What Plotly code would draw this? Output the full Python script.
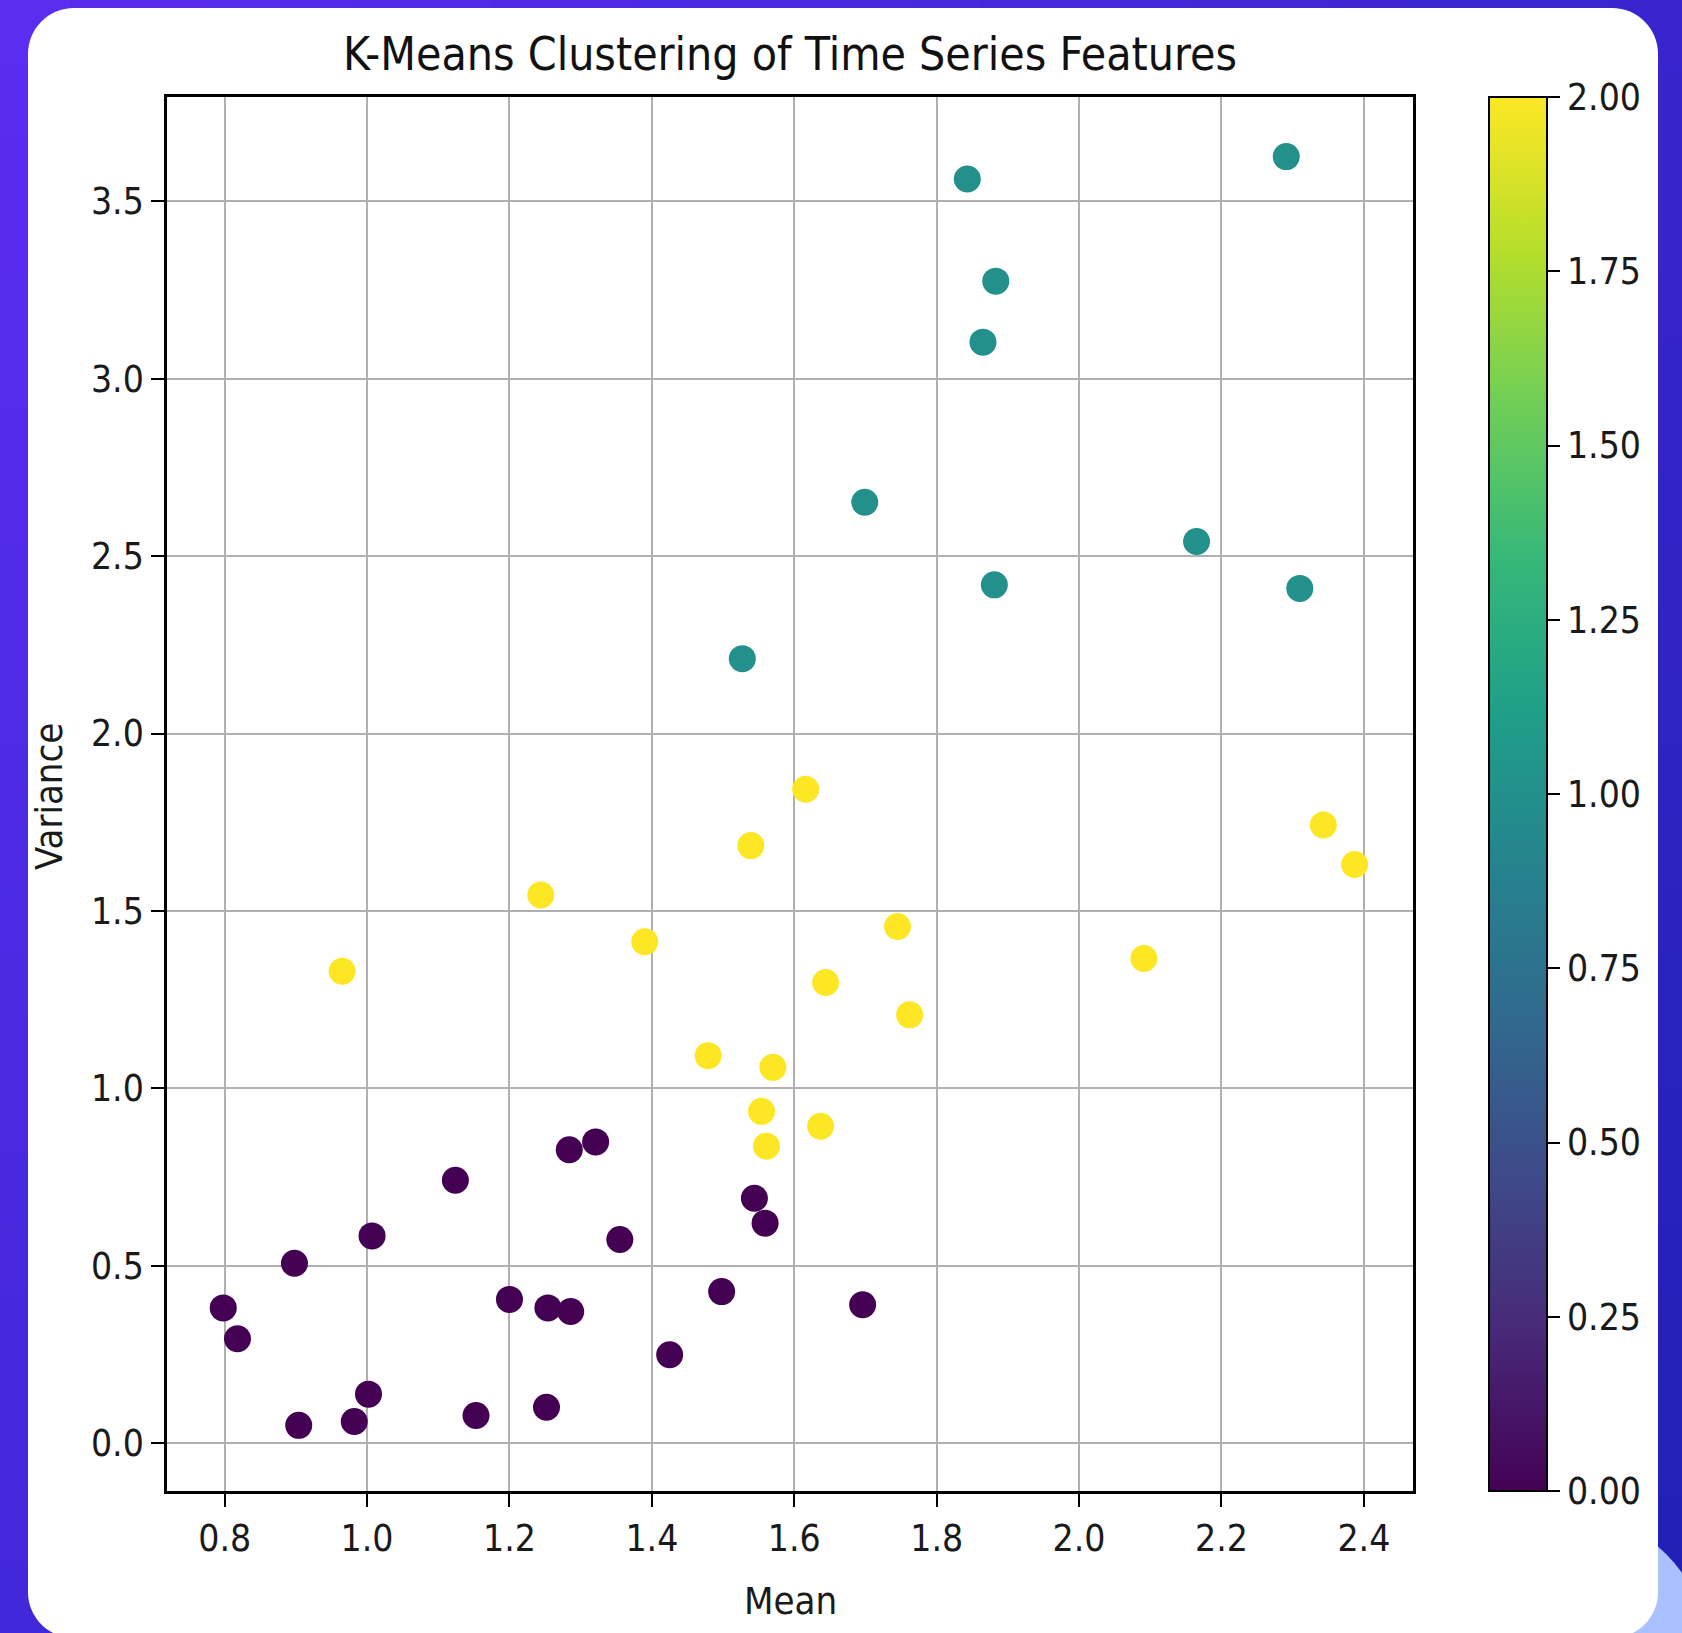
import plotly.graph_objects as go

# ---------------- data ----------------
cluster0_mean = [0.798, 0.818, 0.898, 0.904, 0.982, 1.002, 1.007, 1.124, 1.153, 1.200, 1.252,
                 1.254, 1.286, 1.284, 1.321, 1.355, 1.425, 1.498, 1.544, 1.559, 1.696]
cluster0_var = [0.381, 0.294, 0.507, 0.050, 0.061, 0.138, 0.584, 0.741, 0.078, 0.405, 0.101,
                0.381, 0.371, 0.827, 0.849, 0.574, 0.249, 0.427, 0.690, 0.620, 0.390]

cluster1_mean = [1.527, 1.699, 1.843, 1.865, 1.883, 1.881, 2.165, 2.291, 2.310]
cluster1_var = [2.211, 2.652, 3.563, 3.103, 3.275, 2.419, 2.541, 3.626, 2.409]

cluster2_mean = [0.965, 1.244, 1.390, 1.479, 1.539, 1.554, 1.561, 1.570, 1.616, 1.637, 1.644,
                 1.745, 1.762, 2.091, 2.343, 2.387]
cluster2_var = [1.330, 1.545, 1.413, 1.092, 1.684, 0.935, 0.837, 1.059, 1.843, 0.893, 1.298,
                1.456, 1.207, 1.366, 1.742, 1.631]

cluster_ids = [0, 1, 2]
x_ticks = [0.8, 1.0, 1.2, 1.4, 1.6, 1.8, 2.0, 2.2, 2.4]
y_ticks = [0.0, 0.5, 1.0, 1.5, 2.0, 2.5, 3.0, 3.5]
cbar_ticks = [0.0, 0.25, 0.5, 0.75, 1.0, 1.25, 1.5, 1.75, 2.0]

title_text = "K-Means Clustering of Time Series Features"
x_label = "Mean"
y_label = "Variance"

# ---------------- layout geometry (pixels) ----------------
W, H = 1682, 1633
PL, PR, PT, PB = 167, 1413, 97, 1491
PW, PH = PR - PL, PB - PT

FONT = "DejaVu Sans Condensed, DejaVu Sans, sans-serif"


def px(x):
    return (x - PL) / PW


def py(y):
    return (PB - y) / PH


all_mean = cluster0_mean + cluster1_mean + cluster2_mean
all_var = cluster0_var + cluster1_var + cluster2_var
all_lab = ([cluster_ids[0]] * len(cluster0_mean) + [cluster_ids[1]] * len(cluster1_mean)
           + [cluster_ids[2]] * len(cluster2_mean))

fig = go.Figure()
fig.add_trace(go.Scatter(
    x=all_mean, y=all_var, mode="markers",
    marker=dict(
        color=all_lab, colorscale="Viridis", cmin=0, cmax=2, size=27,
        line=dict(width=0), opacity=1,
        showscale=True,
        colorbar=dict(
            thickness=58, thicknessmode="pixels", len=1.0, lenmode="fraction",
            x=px(1489), xanchor="left", xpad=0, y=0.5, yanchor="middle", ypad=0,
            outlinecolor="black", outlinewidth=2,
            ticks="outside", ticklen=12, tickwidth=2, tickcolor="black",
            tickvals=cbar_ticks, ticktext=[f"{v:.2f}" for v in cbar_ticks],
            tickfont=dict(family=FONT, size=37, color="#1a1a1a"),
        ),
    ),
    showlegend=False, hoverinfo="x+y",
))

# ---------------- background: gradient + white card ----------------
shapes = []
c0 = (91, 45, 242)
c1 = (32, 32, 180)


def col(x, y):
    t = min(1, max(0, x / W * 0.6 + y / H * 0.4))
    r, g, b = (int(round(a + (bb - a) * t)) for a, bb in zip(c0, c1))
    return f"rgb({r},{g},{b})"


nx, ny = 24, 24
for i in range(nx):
    for j in range(ny):
        x0, x1 = W * i / nx, W * (i + 1) / nx
        y0, y1 = H * j / ny, H * (j + 1) / ny
        shapes.append(dict(type="rect", xref="paper", yref="paper", layer="below",
                           x0=px(x0), x1=px(x1 + 1), y0=py(y1 + 1), y1=py(y0),
                           line=dict(width=0), fillcolor=col((x0 + x1) / 2, (y0 + y1) / 2)))
# light blue glow at bottom-right corner
shapes.append(dict(type="circle", xref="paper", yref="paper", layer="below",
                   x0=px(1410), x1=px(1710), y0=py(1810), y1=py(1510),
                   line=dict(width=0), fillcolor="#a9c1ff"))

# rounded white card
cx0, cx1, cy0, cy1, r = 28, 1658, 8, 1638, 46
k = 0.5523 * r


def P(x, y):
    return f"{px(x):.6f},{py(y):.6f}"


path = (f"M {P(cx0 + r, cy0)} L {P(cx1 - r, cy0)} "
        f"C {P(cx1 - r + k, cy0)} {P(cx1, cy0 + r - k)} {P(cx1, cy0 + r)} "
        f"L {P(cx1, cy1 - r)} "
        f"C {P(cx1, cy1 - r + k)} {P(cx1 - r + k, cy1)} {P(cx1 - r, cy1)} "
        f"L {P(cx0 + r, cy1)} "
        f"C {P(cx0 + r - k, cy1)} {P(cx0, cy1 - r + k)} {P(cx0, cy1 - r)} "
        f"L {P(cx0, cy0 + r)} "
        f"C {P(cx0, cy0 + r - k)} {P(cx0 + r - k, cy0)} {P(cx0 + r, cy0)} Z")
shapes.append(dict(type="path", xref="paper", yref="paper", layer="below", path=path,
                   line=dict(width=0), fillcolor="white"))

annotations = [
    dict(text=title_text, xref="paper", yref="paper", x=0.5, y=py(54),
         xanchor="center", yanchor="middle", showarrow=False,
         font=dict(family=FONT, size=46, color="#111")),
    dict(text=x_label, xref="paper", yref="paper", x=px(790), y=py(1601),
         xanchor="center", yanchor="middle", showarrow=False,
         font=dict(family=FONT, size=38, color="#1a1a1a")),
    dict(text=y_label, xref="paper", yref="paper", x=px(49), y=py(797),
         xanchor="center", yanchor="middle", showarrow=False, textangle=-90,
         font=dict(family=FONT, size=38, color="#1a1a1a")),
]

axis_common = dict(
    showline=True, linecolor="black", linewidth=2.5, mirror=True,
    showgrid=True, gridcolor="#b0b0b0", gridwidth=2,
    zeroline=False, ticks="outside", ticklen=13, tickwidth=2, tickcolor="black",
    tickfont=dict(family=FONT, size=37, color="#1a1a1a"),
)

fig.update_layout(
    width=W, height=H,
    margin=dict(l=PL, r=W - PR, t=PT, b=H - PB, pad=0),
    paper_bgcolor="rgb(70,38,215)", plot_bgcolor="white",
    shapes=shapes, annotations=annotations,
    xaxis=dict(range=[0.719, 2.469], tickvals=x_ticks,
               ticktext=[f"{v:.1f}" for v in x_ticks], **axis_common),
    yaxis=dict(range=[-0.135, 3.794], tickvals=y_ticks,
               ticktext=[f"{v:.1f}" for v in y_ticks], **axis_common),
)

fig.write_html("out.html")
